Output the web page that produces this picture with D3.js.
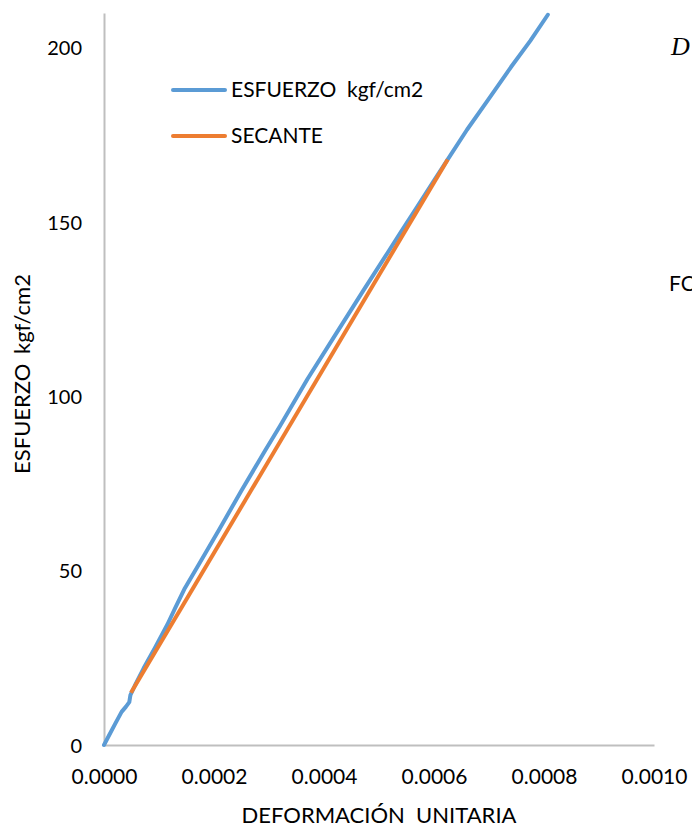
<!DOCTYPE html>
<html>
<head>
<meta charset="utf-8">
<script src="https://cdn.jsdelivr.net/npm/d3@7"></script>
<style>
  html, body { margin: 0; padding: 0; background: #fff; overflow: hidden; }
  svg { display: block; }
  text { font-family: Lato, "Open Sans", sans-serif; fill: #000; }
</style>
</head>
<body>
<svg id="chart" width="692" height="829"></svg>
<script>
// ---- data ----
const strainBlue = [0, 0.000010, 0.000020, 0.000032, 0.000040, 0.000046, 0.000048, 0.000056, 0.000072, 0.000093,
  0.000115, 0.000130, 0.000147, 0.000175, 0.000210, 0.000250, 0.000293, 0.000320, 0.000370, 0.000420,
  0.000470, 0.000516, 0.000540, 0.000570, 0.000600, 0.000625, 0.000660, 0.000698, 0.000740, 0.000775, 0.000807];
const stressBlue = [0, 3, 6, 9.5, 11, 12.3, 14.3, 17, 22, 28,
  34.5, 39.5, 45, 52.5, 62, 73, 84.5, 91.5, 105, 117.5,
  130, 141.3, 147.2, 154.5, 161.9, 168, 176.5, 185, 194.5, 202, 209.5];
const strainSecant = [0.000049, 0.000625];
const stressSecant = [15, 168];
const xTicks = [0, 0.0002, 0.0004, 0.0006, 0.0008, 0.0010];
const yTicks = [0, 50, 100, 150, 200];
const seriesNames = ["ESFUERZO  kgf/cm2", "SECANTE"];
const seriesColors = ["#5b9bd5", "#ed7d31"];
const xTitle = "DEFORMACIÓN  UNITARIA";
const yTitle = "ESFUERZO kgf/cm2";

// ---- layout ----
const svg = d3.select("#chart");
const mLeft = 104, mRight = 654, mTop = 13, mBottom = 745;
const x = d3.scaleLinear().domain([0, 0.0010]).range([mLeft, mRight]);
const y = d3.scaleLinear().domain([0, 210]).range([mBottom, mTop]);

// axes
const xAxis = d3.axisBottom(x).tickValues(xTicks).tickFormat(d3.format(".4f")).tickSize(0).tickPadding(24);
const yAxis = d3.axisLeft(y).tickValues(yTicks).tickFormat(d3.format("d")).tickSize(0).tickPadding(22);

const gx = svg.append("g").attr("transform", `translate(0,${mBottom})`).call(xAxis);
const gy = svg.append("g").attr("transform", `translate(${mLeft},0)`).call(yAxis);
[gx, gy].forEach(g => {
  g.select(".domain").attr("stroke", "#bfbfbf").attr("stroke-width", 2);
  g.selectAll("text").style("font-family", "Lato, 'Open Sans', sans-serif").style("font-size", "20px").attr("fill", "#000");
});
gx.selectAll("text").style("font-size", "21px");
gy.selectAll("text").attr("dy", "0.35em");

// lines
const line = d3.line().x(d => x(d[0])).y(d => y(d[1]));
const blueData = strainBlue.map((s, i) => [s, stressBlue[i]]);
const secData = strainSecant.map((s, i) => [s, stressSecant[i]]);

svg.append("path").datum(blueData).attr("d", line.curve(d3.curveLinear))
  .attr("fill", "none").attr("stroke", seriesColors[0]).attr("stroke-width", 4)
  .attr("stroke-linejoin", "round").attr("stroke-linecap", "round");
svg.append("path").datum(secData).attr("d", line)
  .attr("fill", "none").attr("stroke", seriesColors[1]).attr("stroke-width", 4)
  .attr("stroke-linecap", "butt");

// legend
const legend = svg.append("g");
seriesNames.forEach((name, i) => {
  const ly = 90 + i * 46;
  legend.append("line").attr("x1", 173).attr("x2", 225).attr("y1", ly).attr("y2", ly)
    .attr("stroke", seriesColors[i]).attr("stroke-width", 4).attr("stroke-linecap", "round");
  legend.append("text").attr("x", 231).attr("y", ly).attr("dy", "0.35em")
    .style("font-size", "21px").style("white-space", "pre").attr("xml:space", "preserve").text(name);
});

// titles
svg.append("text").attr("x", 379).attr("y", 815).attr("dy", "0.35em").attr("text-anchor", "middle")
  .style("font-size", "22px").attr("xml:space", "preserve").style("white-space", "pre").text(xTitle);
svg.append("text").attr("transform", "translate(22,374) rotate(-90)").attr("dy", "0.35em").attr("text-anchor", "middle")
  .style("font-size", "22px").style("word-spacing", "4px").text(yTitle);

// clipped side texts
svg.append("text").attr("x", 671).attr("y", 55).style("font-family", "'Liberation Serif', serif")
  .style("font-style", "italic").style("font-size", "26px").text("D");
svg.append("text").attr("x", 669).attr("y", 291).style("font-size", "21px").text("FC");
</script>
</body>
</html>
